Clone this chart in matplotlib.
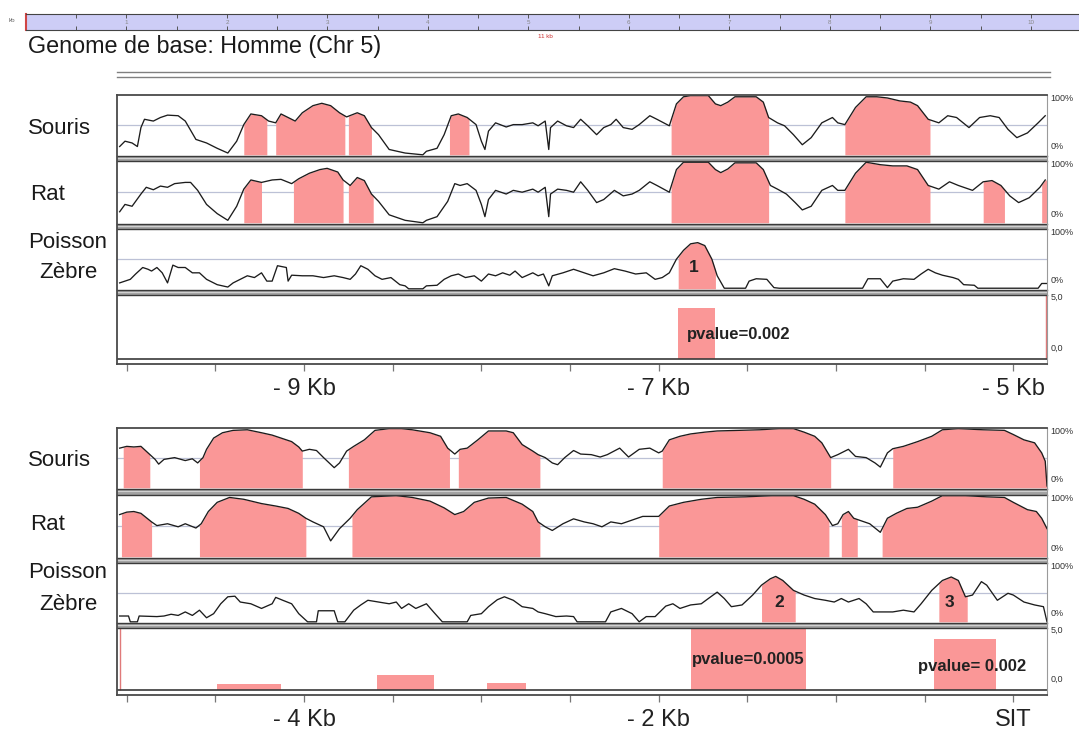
import matplotlib
matplotlib.use("Agg")
import matplotlib.pyplot as plt
from matplotlib.patches import Rectangle
from matplotlib.lines import Line2D
from matplotlib.ticker import FixedLocator, FixedFormatter
import numpy as np

# ---------------- data (kb positions, % identity) ----------------
souris1_x = [-10.04, -10.01, -9.97, -9.94, -9.92, -9.90, -9.85, -9.81, -9.77, -9.71,
             -9.67, -9.61, -9.55, -9.49, -9.43, -9.38, -9.34, -9.30, -9.24, -9.20,
             -9.16, -9.13, -9.09, -9.05, -9.01, -8.95, -8.90, -8.85, -8.80, -8.76,
             -8.70, -8.66, -8.62, -8.58, -8.52, -8.43, -8.33, -8.31, -8.25, -8.21,
             -8.17, -8.13, -8.08, -8.03, -8.00, -7.98, -7.96, -7.92, -7.86, -7.82,
             -7.77, -7.71,
             -7.68, -7.64, -7.62, -7.61, -7.57, -7.52, -7.48, -7.44, -7.40, -7.35,
             -7.31, -7.27, -7.24, -7.20, -7.15, -7.11, -7.05, -7.01, -6.94, -6.90,
             -6.86, -6.82, -6.72, -6.68, -6.65, -6.61, -6.57, -6.45, -6.41, -6.38,
             -6.33, -6.29, -6.24, -6.19, -6.14, -6.08, -6.02, -5.99, -5.95, -5.89,
             -5.83, -5.77, -5.71, -5.64, -5.58, -5.54, -5.48, -5.42, -5.37, -5.32,
             -5.25, -5.19, -5.13, -5.08, -5.03, -4.98, -4.92, -4.86, -4.82]
souris1_y = [14, 23, 20, 14, 46, 60, 57, 63, 67, 66,
             57, 26, 20, 11, 3, 23, 51, 69, 66, 57,
             54, 69, 63, 57, 71, 83, 87, 83, 71, 64,
             71, 66, 46, 34, 9, 3, 0, 6, 11, 34,
             66, 69, 63, 51, 23, 9, 40, 54, 47, 51,
             51, 54,
             49, 57, 9, 46, 57, 49, 46, 60, 49, 34,
             46, 51, 60, 46, 43, 51, 66, 60, 49, 86,
             98, 100, 100, 86, 83, 89, 98, 98, 89, 63,
             54, 49, 34, 17, 29, 54, 63, 54, 51, 80,
             98, 98, 96, 91, 89, 83, 60, 54, 66, 63,
             46, 63, 66, 63, 43, 29, 37, 54, 66]
souris1_fills = [(-9.34, -9.21), (-9.16, -8.77), (-8.75, -8.62), (-8.18, -8.07),
                 (-6.93, -6.38), (-5.95, -5.47)]

rat1_x = [-10.04, -10.01, -9.97, -9.92, -9.89, -9.85, -9.81, -9.77, -9.73, -9.67,
          -9.64, -9.60, -9.55, -9.49, -9.43, -9.38, -9.34, -9.30, -9.24, -9.18,
          -9.13, -9.07, -9.03, -8.97, -8.91, -8.87, -8.81, -8.78, -8.74, -8.70,
          -8.66, -8.62, -8.58, -8.52, -8.43, -8.33, -8.31, -8.25, -8.19, -8.15,
          -8.12, -8.08, -8.03, -8.00, -7.98, -7.96, -7.92, -7.86, -7.82, -7.77,
          -7.71,
          -7.68, -7.64, -7.62, -7.61, -7.57, -7.52, -7.48, -7.44, -7.40, -7.35,
          -7.31, -7.25, -7.20, -7.15, -7.11, -7.05, -7.01, -6.94, -6.90, -6.86,
          -6.72, -6.68, -6.65, -6.61, -6.57, -6.45, -6.41, -6.37, -6.33, -6.28,
          -6.23, -6.19, -6.14, -6.08, -6.02, -5.99, -5.95, -5.89, -5.83, -5.75,
          -5.68, -5.60, -5.54, -5.48, -5.42, -5.36, -5.31, -5.23, -5.17, -5.12,
          -5.07, -5.02, -4.97, -4.91, -4.85, -4.82]
rat1_y = [18, 30, 27, 47, 58, 54, 60, 58, 64, 66,
          66, 53, 30, 15, 4, 27, 55, 70, 66, 70,
          71, 64, 72, 81, 87, 89, 83, 70, 61, 74,
          69, 47, 35, 13, 4, 0, 4, 10, 35, 64,
          61, 64, 53, 30, 10, 38, 53, 47, 53, 50,
          55,
          50, 58, 10, 47, 55, 53, 50, 67, 53, 33,
          38, 53, 44, 47, 53, 67, 61, 50, 87, 99,
          99, 87, 82, 88, 98, 98, 87, 61, 55, 47,
          33, 21, 27, 53, 61, 53, 53, 81, 99, 95,
          93, 93, 87, 61, 55, 67, 61, 53, 67, 69,
          61, 44, 33, 41, 58, 70]
rat1_fills = [(-9.34, -9.24), (-9.06, -8.78), (-8.75, -8.61), (-6.93, -6.38),
              (-5.95, -5.47), (-5.17, -5.05), (-4.84, -4.81)]

poisson1_x = [-10.04, -10.01, -9.98, -9.95, -9.91, -9.88, -9.86, -9.83, -9.80, -9.77,
              -9.74, -9.71, -9.67, -9.63, -9.59, -9.55, -9.49, -9.43, -9.40, -9.36,
              -9.32, -9.28, -9.24, -9.21, -9.18, -9.15, -9.10, -9.09, -9.07, -9.01,
              -8.95, -8.89, -8.83, -8.78, -8.74, -8.71, -8.68, -8.64, -8.60, -8.56,
              -8.51, -8.46, -8.43, -8.41, -8.33, -8.31, -8.25, -8.21, -8.17, -8.13,
              -8.09, -8.04, -8.00, -7.96, -7.92, -7.88, -7.84, -7.81, -7.77, -7.71,
              -7.68, -7.65, -7.62, -7.60, -7.54, -7.48, -7.42, -7.37, -7.31, -7.25,
              -7.19, -7.13, -7.07, -7.02, -6.98, -6.94, -6.90, -6.86, -6.82, -6.78,
              -6.74, -6.70, -6.67, -6.63, -6.51, -6.49, -6.45, -6.39, -6.35, -6.32,
              -5.85, -5.82, -5.75, -5.71, -5.68, -5.62, -5.56, -5.52, -5.48, -5.44,
              -5.40, -5.34, -5.31, -5.28, -5.22, -5.20, -4.86, -4.84, -4.81]
poisson1_y = [10, 13, 16, 25, 36, 33, 30, 36, 27, 10,
              40, 36, 36, 27, 27, 16, 7, 3, 10, 16,
              22, 19, 27, 13, 13, 39, 36, 13, 23, 22,
              22, 19, 22, 19, 16, 25, 39, 33, 22, 16,
              19, 7, 5, 0, 0, 5, 6, 16, 22, 25,
              19, 22, 13, 25, 22, 27, 23, 30, 19, 27,
              22, 25, 5, 22, 27, 33, 27, 22, 27, 34,
              30, 25, 27, 16, 19, 27, 50, 65, 76, 78,
              73, 50, 22, 1, 1, 13, 17, 16, 2, 1,
              1, 17, 17, 2, 13, 17, 16, 25, 33, 27,
              23, 19, 16, 7, 6, 1, 1, 9, 9]
poisson1_fills = [(-6.89, -6.68)]
poisson1_marks = [(-6.80, 36, "1")]

souris2_x = [-5.04, -5.00, -4.96, -4.92, -4.88, -4.84, -4.82, -4.79, -4.73, -4.67,
             -4.63, -4.60, -4.57, -4.55, -4.51, -4.46, -4.40, -4.32, -4.24, -4.18,
             -4.13, -4.07, -4.03, -4.01, -3.97, -3.93, -3.89, -3.83, -3.80, -3.76,
             -3.72, -3.66, -3.60, -3.52, -3.45, -3.39, -3.29, -3.23, -3.19, -3.15,
             -3.12, -3.08, -3.02, -2.96, -2.86, -2.82, -2.77, -2.71,
             -2.68, -2.64, -2.60, -2.57, -2.53, -2.48, -2.44, -2.38, -2.33, -2.29,
             -2.22, -2.17, -2.11, -2.05, -2.00, -1.98, -1.94, -1.88, -1.82, -1.74,
             -1.67, -1.55, -1.43, -1.32, -1.24, -1.18, -1.12, -1.08, -1.03, -0.99,
             -0.93, -0.89, -0.83, -0.78, -0.75, -0.71, -0.68, -0.62, -0.54, -0.46,
             -0.40, -0.31, -0.17, -0.05, 0.00, 0.06, 0.12, 0.16, 0.18, 0.19]
souris2_y = [67, 70, 69, 70, 59, 48, 40, 48, 51, 46,
             49, 42, 51, 65, 84, 93, 97, 98, 93, 89,
             84, 78, 69, 62, 65, 63, 51, 34, 42, 62,
             70, 81, 97, 100, 100, 98, 93, 87, 67, 57,
             65, 67, 81, 96, 96, 93, 73, 62,
             56, 51, 42, 39, 51, 63, 57, 56, 52, 56,
             67, 52, 65, 67, 59, 62, 81, 87, 91, 94,
             96, 97, 98, 100, 100, 94, 87, 76, 51, 56,
             65, 53, 51, 42, 35, 59, 66, 70, 78, 87,
             98, 100, 98, 97, 90, 81, 76, 59, 45, 3]
souris2_fills = [(-5.02, -4.87), (-4.59, -4.01), (-3.75, -3.18), (-3.13, -2.67),
                 (-1.98, -1.03), (-0.68, 0.19)]

rat2_x = [-5.04, -5.00, -4.96, -4.92, -4.86, -4.83, -4.77, -4.71, -4.67, -4.61,
          -4.58, -4.54, -4.49, -4.42, -4.34, -4.24, -4.16, -4.09, -4.03, -3.99,
          -3.95, -3.89, -3.85, -3.80, -3.74, -3.70, -3.62, -3.48, -3.39, -3.29,
          -3.21, -3.15, -3.10, -3.04, -2.96, -2.86, -2.77, -2.71,
          -2.68, -2.64, -2.60, -2.54, -2.48, -2.42, -2.37, -2.32, -2.27, -2.21,
          -2.15, -2.09, -2.00, -1.94, -1.86, -1.76, -1.67, -1.51, -1.36, -1.24,
          -1.18, -1.12, -1.06, -1.02, -0.99, -0.96, -0.93, -0.90, -0.87, -0.81,
          -0.75, -0.71, -0.66, -0.60, -0.54, -0.46, -0.40, -0.27, -0.15, -0.05,
          0.00, 0.08, 0.13, 0.16, 0.19]
rat2_y = [69, 73, 74, 71, 57, 51, 54, 49, 54, 47,
          54, 74, 89, 97, 94, 87, 83, 79, 71, 63,
          57, 49, 26, 46, 63, 77, 98, 100, 97, 91,
          80, 69, 74, 89, 96, 97, 86, 74,
          57, 49, 43, 54, 62, 57, 54, 49, 57, 54,
          60, 66, 66, 83, 89, 94, 97, 98, 100, 100,
          94, 86, 69, 51, 54, 69, 74, 63, 60, 54,
          40, 63, 71, 79, 81, 91, 100, 100, 98, 97,
          89, 77, 74, 63, 46]
rat2_fills = [(-5.03, -4.86), (-4.59, -3.99), (-3.73, -2.67), (-2.00, -1.04),
              (-0.97, -0.88), (-0.74, 0.19)]

poisson2_x = [-5.04, -4.99, -4.98, -4.94, -4.93, -4.83, -4.79, -4.75, -4.71, -4.67,
              -4.63, -4.59, -4.55, -4.51, -4.47, -4.43, -4.39, -4.36, -4.30, -4.24,
              -4.18, -4.16, -4.12, -4.07, -4.03, -3.98, -3.93, -3.92, -3.83, -3.81,
              -3.77, -3.72, -3.68, -3.64, -3.58, -3.52, -3.48, -3.45, -3.41, -3.37,
              -3.31, -3.27, -3.22, -3.08, -3.06, -3.00, -2.96, -2.91, -2.87, -2.82,
              -2.77, -2.71,
              -2.68, -2.64, -2.58, -2.52, -2.48, -2.46, -2.30, -2.27, -2.21, -2.15,
              -2.11, -2.07, -2.02, -1.96, -1.92, -1.88, -1.82, -1.76, -1.72, -1.67,
              -1.63, -1.59, -1.53, -1.47, -1.42, -1.37, -1.34, -1.30, -1.24, -1.18,
              -1.12, -1.06, -1.01, -0.97, -0.93, -0.87, -0.83, -0.79, -0.73, -0.68,
              -0.62, -0.56, -0.52, -0.46, -0.40, -0.35, -0.31, -0.27, -0.23, -0.18,
              -0.15, -0.09, -0.03, 0.00, 0.06, 0.12, 0.17, 0.19]
poisson2_y = [10, 10, 0, 0, 10, 9, 10, 13, 11, 17,
              11, 20, 7, 14, 31, 43, 44, 34, 31, 23,
              31, 42, 37, 31, 14, 0, 0, 19, 19, 0,
              0, 20, 29, 37, 34, 31, 34, 23, 31, 23,
              31, 17, 0, 0, 11, 14, 26, 38, 43, 37,
              26, 23,
              17, 14, 9, 10, 9, 0, 0, 17, 23, 14,
              0, 9, 9, 27, 31, 23, 29, 31, 40, 51,
              40, 26, 29, 46, 63, 74, 78, 71, 54, 46,
              40, 37, 34, 40, 34, 40, 31, 17, 17, 17,
              20, 17, 31, 54, 71, 77, 71, 43, 46, 69,
              63, 37, 49, 46, 34, 29, 26, 0]
poisson2_fills = [(-1.42, -1.23), (-0.42, -0.26)]
poisson2_marks = [(-1.32, 34, "2"), (-0.36, 34, "3")]

# p-value blocks: (start kb, end kb, height)
pval1_bars = [(-6.89, -6.68, 4.0)]
pval1_texts = [(-6.84, 1.9, "pvalue=0.002")]
pval2_bars = [(-4.49, -4.13, 0.5), (-3.59, -3.27, 1.2), (-2.97, -2.75, 0.6),
              (-1.82, -1.17, 5.0), (-0.45, -0.10, 4.1)]
pval2_texts = [(-1.81, 2.45, "pvalue=0.0005"), (-0.54, 1.9, "pvalue= 0.002")]

ticks1 = [-10.0, -9.5, -9.0, -8.5, -8.0, -7.5, -7.0, -6.5, -6.0, -5.5, -5.0]
labels1 = ["", "", "- 9 Kb", "", "", "", "- 7 Kb", "", "", "", "- 5 Kb"]
ticks2 = [-5.0, -4.5, -4.0, -3.5, -3.0, -2.5, -2.0, -1.5, -1.0, -0.5, 0.0]
labels2 = ["", "", "- 4 Kb", "", "", "", "- 2 Kb", "", "", "", "SIT"]

ruler_ticks = [0, 0.5, 1, 1.5, 2, 2.5, 3, 3.5, 4, 4.5, 5, 5.5, 6, 6.5, 7, 7.5,
               8, 8.5, 9, 9.5, 10, 10.5]
ruler_labels = ["1", "2", "3", "4", "5", "6", "7", "8", "9", "10"]
ruler_label_pos = [1, 2, 3, 4, 5, 6, 7, 8, 9, 10]

# ---------------- figure ----------------
W, H = 1079, 730
plt.rcParams['font.family'] = ['Liberation Sans', 'DejaVu Sans']
fig = plt.figure(figsize=(W / 100, H / 100), dpi=100)

LEFT, RIGHT = 117, 1047
PINK = '#fa9797'
DARK = '#3a3a3a'


def box(x0, y0, x1, y1):
    return [x0 / W, 1 - y1 / H, (x1 - x0) / W, (y1 - y0) / H]


def hline(y, x0=LEFT, x1=RIGHT, color=DARK, lw=1.0, z=3):
    fig.add_artist(Line2D([x0 / W, x1 / W], [1 - y / H, 1 - y / H],
                          transform=fig.transFigure, color=color, lw=lw, zorder=z))


def band(y0, y1):
    fig.add_artist(Rectangle((LEFT / W, 1 - y1 / H), (RIGHT - LEFT) / W, (y1 - y0) / H,
                             transform=fig.transFigure, facecolor='#a2a2a2',
                             edgecolor='none', zorder=2))
    hline(y0 + 2, color='#d0d0d0', lw=0.8)
    hline(y0)
    hline(y1)


def track(y0, y1, xs, ys, fills, xlim, marks=()):
    ax = fig.add_axes(box(LEFT, y0, RIGHT, y1))
    ax.set_xlim(xlim)
    ax.set_ylim(-2, 101)
    ax.axhline(50, color='#bcc1d6', lw=0.9, zorder=1)
    for a, b in fills:
        seg = [a] + [x for x in xs if a < x < b] + [b]
        ax.fill_between(seg, 0, np.interp(seg, xs, ys), color=PINK, lw=0, zorder=2)
    ax.plot(xs, ys, color='#1c1c1c', lw=0.95, zorder=3)
    for mx, my, s in marks:
        ax.text(mx, my, s, fontsize=12.5, fontweight='bold', color='#222',
                ha='center', va='center', zorder=4)
    ax.axis('off')
    ax.text(1.004, 95, "100%", transform=ax.get_yaxis_transform(), fontsize=6.5,
            color='#333', va='center', ha='left')
    ax.text(1.004, 14, "0%", transform=ax.get_yaxis_transform(), fontsize=6.5,
            color='#333', va='center', ha='left')
    return ax


def pval(y0, y1, base, bars, texts, xlim, edge_x):
    ax = fig.add_axes(box(LEFT, y0, RIGHT, y1))
    ax.set_xlim(xlim)
    lo = -5.0 * (y1 - base) / (base - y0)
    ax.set_ylim(lo, 5.0)
    for a, b, h in bars:
        ax.bar(a, h, width=b - a, align='edge', color=PINK, lw=0, zorder=2)
    ax.vlines(edge_x, 0, 5, color='#e07a7a', lw=1.0, zorder=2)
    ax.axhline(0, color=DARK, lw=1.2, zorder=3)
    for tx, ty, s in texts:
        ax.text(tx, ty, s, fontsize=12, fontweight='bold', color='#222',
                ha='left', va='center', zorder=4)
    ax.axis('off')
    ax.text(1.004, 4.85, "5,0", transform=ax.get_yaxis_transform(), fontsize=6.5,
            color='#333', va='center', ha='left')
    ax.text(1.004, 0.85, "0,0", transform=ax.get_yaxis_transform(), fontsize=6.5,
            color='#333', va='center', ha='left')
    return ax


def frame(y0, y1, xlim, ticks, labels):
    ax = fig.add_axes(box(LEFT, y0, RIGHT, y1))
    ax.set_zorder(5)
    ax.patch.set_alpha(0)
    ax.set_xlim(xlim)
    ax.set_ylim(0, 1)
    for side in ('left', 'top', 'bottom'):
        ax.spines[side].set_color('#4a4a4a')
        ax.spines[side].set_linewidth(1.3)
    ax.spines['right'].set_color('#9a9a9a')
    ax.spines['right'].set_linewidth(0.8)
    ax.set_yticks([])
    ax.xaxis.set_major_locator(FixedLocator(ticks))
    ax.xaxis.set_major_formatter(FixedFormatter(labels))
    ax.tick_params(axis='x', direction='out', length=5, width=0.9, color='#777',
                   labelsize=17, labelcolor='#222', pad=5)
    return ax


def label(y, s, x=28, ha='left'):
    fig.text(x / W, 1 - y / H, s, fontsize=16, color='#1a1a1a', ha=ha, va='center')


# top ruler
rax = fig.add_axes(box(26, 14, W + 2, 30))
rax.set_facecolor('#cdcdf6')
rax.set_xlim(0, 10.48)
rax.set_ylim(0, 1)
rax.spines['right'].set_visible(False)
rax.spines['left'].set_color('#d04545')
rax.spines['left'].set_linewidth(1.5)
for side in ('top', 'bottom'):
    rax.spines[side].set_color('#444')
rax.set_yticks([])
rax.set_xticks(ruler_ticks)
rax.tick_params(axis='x', direction='in', top=True, bottom=True, length=3,
                width=0.7, color='#555', labelbottom=False)
for p, s in zip(ruler_label_pos, ruler_labels):
    rax.text(p, 0.5, s, fontsize=4.5, color='#888', ha='center', va='center')
fig.text(12 / W, 1 - 21 / H, "kb", fontsize=4.5, color='#666', ha='center', va='center')
fig.text(545 / W, 1 - 36 / H, "11 kb", fontsize=4.5, color='#cc3333', ha='center', va='center')

fig.text(28 / W, 1 - 47 / H, "Genome de base: Homme (Chr 5)", fontsize=16.8,
         color='#1a1a1a', ha='left', va='center')
hline(72, x1=1050, color='#808080', lw=1.0)
hline(77, x1=1050, color='#808080', lw=1.0)

# top group
xl1 = (-10.055, -4.81)
track(95, 156, souris1_x, souris1_y, souris1_fills, xl1)
band(156, 161)
track(161, 224, rat1_x, rat1_y, rat1_fills, xl1)
band(224, 229)
track(229, 290, poisson1_x, poisson1_y, poisson1_fills, xl1, poisson1_marks)
band(290, 295)
pval(295, 364, 359, pval1_bars, pval1_texts, xl1, -4.815)
frame(95, 364, xl1, ticks1, labels1)
label(128, "Souris")
label(195, "Rat", x=30)
label(243, "Poisson", x=68, ha='center')
label(272, "Zèbre", x=68, ha='center')

# bottom group
xl2 = (-5.055, 0.19)
track(428, 489, souris2_x, souris2_y, souris2_fills, xl2)
band(489, 495)
track(495, 558, rat2_x, rat2_y, rat2_fills, xl2)
band(558, 563)
track(563, 623, poisson2_x, poisson2_y, poisson2_fills, xl2, poisson2_marks)
band(623, 628)
pval(628, 695, 690, pval2_bars, pval2_texts, xl2, -5.04)
frame(428, 695, xl2, ticks2, labels2)
label(460, "Souris")
label(525, "Rat", x=30)
label(573, "Poisson", x=68, ha='center')
label(604, "Zèbre", x=68, ha='center')

fig.savefig("out.png", dpi=100, facecolor='white')
